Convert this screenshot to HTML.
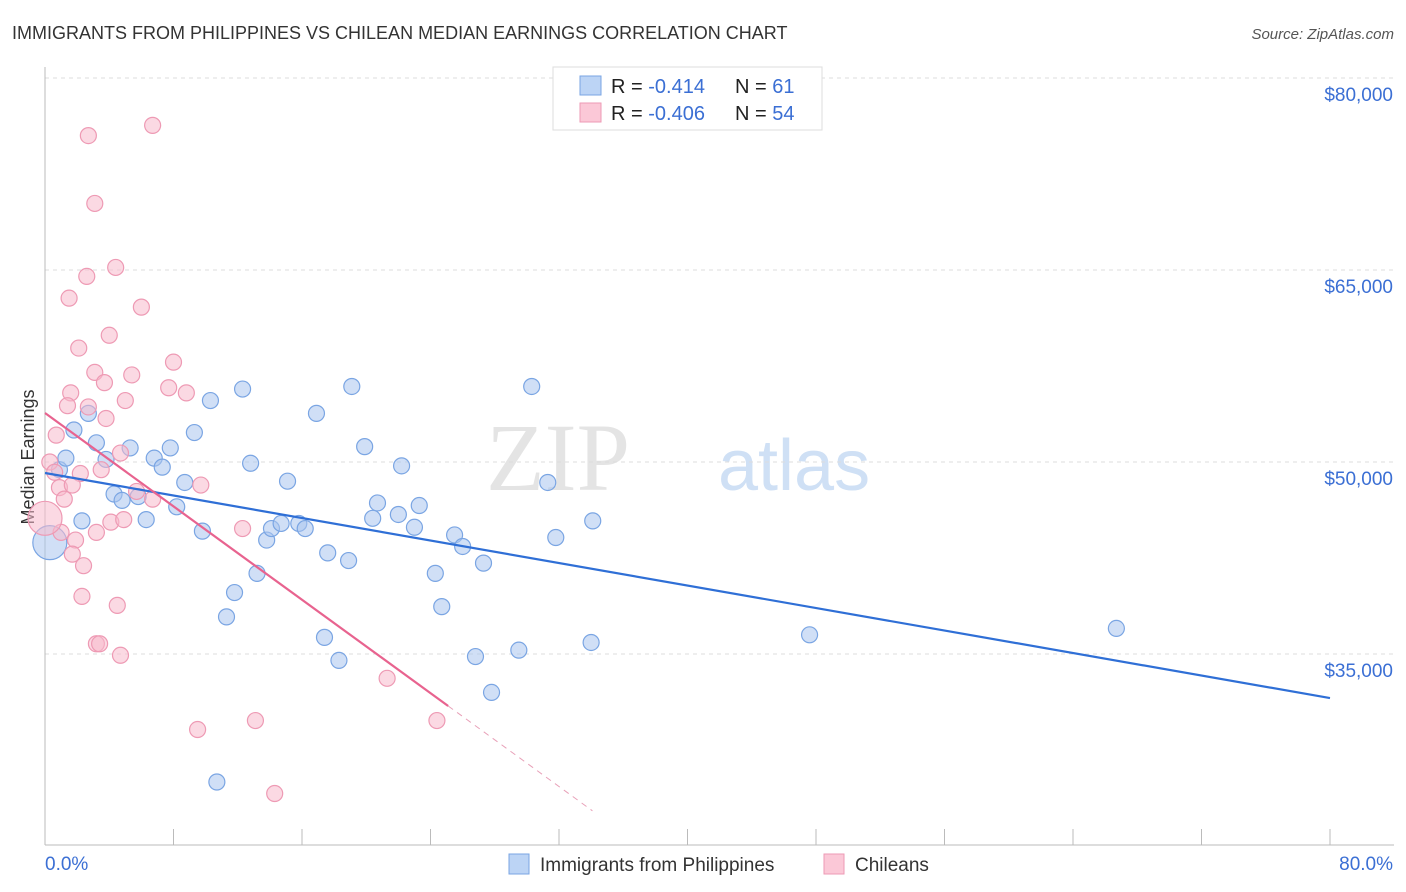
<!DOCTYPE html>
<html><head><meta charset="utf-8"><style>
body{margin:0;background:#fff;font-family:"Liberation Sans",sans-serif;}
#wrap{position:relative;width:1406px;height:892px;overflow:hidden;}
</style></head><body>
<div id="wrap">
<svg id="svg" width="1406" height="892" xmlns="http://www.w3.org/2000/svg" font-family="Liberation Sans, sans-serif">
<text x="12" y="39" font-size="18" fill="#333">IMMIGRANTS FROM PHILIPPINES VS CHILEAN MEDIAN EARNINGS CORRELATION CHART</text>
<text x="1394" y="39" font-size="15" fill="#555" font-style="italic" text-anchor="end">Source: ZipAtlas.com</text>
<text x="630" y="490" font-size="96" fill="#e4e4e4" font-family="Liberation Serif, serif" text-anchor="end">ZIP</text>
<text x="718" y="490" font-size="72" fill="#cfe0f5">atlas</text>
<text transform="translate(34,457) rotate(-90)" font-size="18" fill="#333" text-anchor="middle">Median Earnings</text>
<g id="grid"></g><g id="axes"></g><g id="pts"></g><g id="lines"></g>
<g>
<rect x="553" y="67" width="269" height="63" fill="#fff" stroke="#ddd"/>
<rect x="580" y="76" width="21" height="19" fill="#bcd4f5" stroke="#7aa5e3"/>
<rect x="580" y="103" width="21" height="19" fill="#fbc8d7" stroke="#ee9ab4"/>
<text x="611" y="93" font-size="20" fill="#222">R = <tspan fill="#3b6fd4"> -0.414</tspan></text>
<text x="735" y="93" font-size="20" fill="#222">N = <tspan fill="#3b6fd4"> 61</tspan></text>
<text x="611" y="120" font-size="20" fill="#222">R = <tspan fill="#3b6fd4">-0.406</tspan></text>
<text x="735" y="120" font-size="20" fill="#222">N = <tspan fill="#3b6fd4">54</tspan></text>
</g>
<g>
<rect x="509" y="854" width="20" height="20" fill="#bcd4f5" stroke="#7aa5e3"/>
<text x="540" y="871" font-size="19" fill="#333">Immigrants from Philippines</text>
<rect x="824" y="854" width="20" height="20" fill="#fbc8d7" stroke="#ee9ab4"/>
<text x="855" y="871" font-size="19" fill="#333">Chileans</text>
</g>
</svg>
</div>
<script>
const yTicks=[35000,50000,65000,80000];
const yTickLabels=["$35,000","$50,000","$65,000","$80,000"];
const xTickVals=[0,8,16,24,32,40,48,56,64,72,80];
const blueX=[0.3,0.9,1.3,1.8,2.3,2.7,3.2,3.8,4.3,4.8,5.3,5.8,6.3,6.8,7.3,7.8,8.2,8.7,9.3,9.8,10.3,11.3,11.8,12.3,12.8,13.2,13.8,14.1,14.7,15.1,15.8,16.2,16.9,17.6,17.4,18.3,18.9,19.1,19.9,20.4,20.7,22.0,22.2,23.0,23.3,24.3,24.7,25.5,26.0,26.8,27.3,27.8,29.5,30.3,31.3,31.8,34.0,34.1,47.6,66.7,10.7];
const blueY=[43.7,49.4,50.3,52.5,45.4,53.8,51.5,50.2,47.5,47.0,51.1,47.3,45.5,50.3,49.6,51.1,46.5,48.4,52.3,44.6,54.8,37.9,39.8,55.7,49.9,41.3,43.9,44.8,45.2,48.5,45.2,44.8,53.8,42.9,36.3,34.5,42.3,55.9,51.2,45.6,46.8,45.9,49.7,44.9,46.6,41.3,38.7,44.3,43.4,34.8,42.1,32.0,35.3,55.9,48.4,44.1,35.9,45.4,36.5,37.0,25.0];
const pinkX=[2.7,6.7,3.1,2.6,4.4,1.5,6.0,4.0,2.1,8.0,3.1,5.4,3.7,1.6,7.7,8.8,5.0,1.4,2.7,3.8,0.7,4.7,0.3,0.6,2.2,3.5,0.9,1.7,1.2,6.7,5.7,9.7,12.3,4.1,4.9,3.2,1.0,1.9,1.7,2.4,2.3,4.5,3.2,3.4,4.7,21.3,13.1,24.4,9.5,14.3,0];
const pinkY=[75.5,76.3,70.2,64.5,65.2,62.8,62.1,59.9,58.9,57.8,57.0,56.8,56.2,55.4,55.8,55.4,54.8,54.4,54.3,53.4,52.1,50.7,50.0,49.2,49.1,49.4,48.0,48.2,47.1,47.1,47.7,48.2,44.8,45.3,45.5,44.5,44.5,43.9,42.8,41.9,39.5,38.8,35.8,35.8,34.9,33.1,29.8,29.8,29.1,24.1,45.6];
const blueTrend=[49.14,31.56];
const pinkTrend=[53.83,30.94,25.1];
const NS="http://www.w3.org/2000/svg";
const X=p=>45+p*1285/80;
const Y=v=>462-(v-50000)*0.0128;
function mk(t,a,parent){const e=document.createElementNS(NS,t);for(const k in a)e.setAttribute(k,a[k]);document.getElementById(parent).appendChild(e);return e;}
yTicks.forEach((v,i)=>{
 const l=mk('line',{x1:45,x2:1394,y1:Y(v),y2:Y(v),stroke:'#ddd','stroke-dasharray':'4,4'},'grid');
 
 
 const t=mk('text',{x:1393,y:Y(v)+23,'font-size':19,fill:'#3b6fd4','text-anchor':'end'},'axes');
 t.textContent=yTickLabels[i];
 
 
});
const ya=mk('line',{x1:45,x2:45,y1:67,y2:845,stroke:'#bbb'},'axes');


const xa=mk('line',{x1:45,x2:1394,y1:845,y2:845,stroke:'#bbb'},'axes');


xTickVals.forEach(p=>{
 const l=mk('line',{x1:X(p),x2:X(p),y1:829,y2:845,stroke:'#bbb'},'axes');
 
 
});
const x0=mk('text',{x:45,y:870,'font-size':19,fill:'#3b6fd4'},'axes');x0.textContent='0.0%';


const x1=mk('text',{x:1393,y:870,'font-size':19,fill:'#3b6fd4','text-anchor':'end'},'axes');x1.textContent='80.0%';


function dots(xs,ys,fill,stroke,name,bigIdx){
 xs.forEach((p,i)=>{
  const c=mk('circle',{cx:X(p),cy:Y(ys[i]*1000),r:i===bigIdx?17:8,fill:fill,'fill-opacity':0.55,stroke:stroke,'stroke-width':1.2},'pts');
  
  
 });
}
dots(blueX,blueY,'#a9c4ee','#7aa5e3','point-philippines',0);
dots(pinkX,pinkY,'#f7b9cc','#ee9ab4','point-chileans',pinkX.length-1);
const bl=mk('line',{x1:X(0),y1:Y(blueTrend[0]*1000),x2:X(80),y2:Y(blueTrend[1]*1000),stroke:'#2f6fd6','stroke-width':2.2},'lines');


const slope=(pinkTrend[1]-pinkTrend[0])/pinkTrend[2];
const pl=mk('line',{x1:X(0),y1:Y(pinkTrend[0]*1000),x2:X(pinkTrend[2]),y2:Y(pinkTrend[1]*1000),stroke:'#e8638f','stroke-width':2.2},'lines');


const xEnd=(22.75-pinkTrend[0])/slope;
const pd=mk('line',{x1:X(pinkTrend[2]),y1:Y(pinkTrend[1]*1000),x2:X(xEnd),y2:Y(22750),stroke:'#e8a0b8','stroke-width':1,'stroke-dasharray':'6,5'},'lines');


</script>
</body></html>
